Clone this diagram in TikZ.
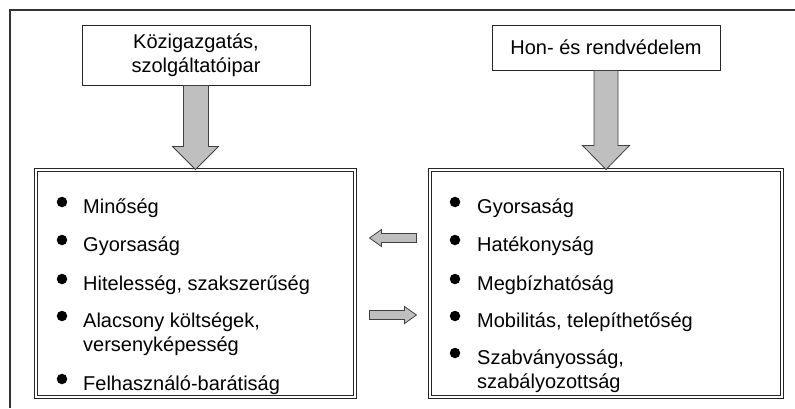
\documentclass[tikz,border=0pt]{standalone}
\usepackage{fontspec}
\setmainfont{Liberation Sans}
\usepackage{tikz}
\usetikzlibrary{positioning}
\usetikzlibrary{calc}

\tikzset{
  sourcebox/.style={draw=black!85, line width=0.8pt, minimum width=228pt, align=center, inner sep=2pt},
  listbox/.style={draw=black!85, double=white, double distance=1.6pt, line width=1pt, inner sep=0pt},
  blockarrow/.style={draw=black!75, fill=black!25, line width=0.8pt, line join=miter},
  itemtext/.style={anchor=base west, inner sep=0pt, align=left, text=black},
  dot/.style={circle, fill=black, inner sep=0pt, minimum size=10.5pt}
}

\begin{document}
\begin{tikzpicture}[x=1pt, y=-1pt, font=\fontsize{20}{24}\selectfont]
            \useasboundingbox (0,0) rectangle (795,408);
            \draw[black!80, line width=1.4pt] (795,10) -- (10,10) -- (10,408);
            \node[sourcebox, minimum height=60pt] (kozig) at (196,55) {Közigazgatás,\\ szolgáltatóipar};
            \node[sourcebox, minimum height=45pt] (honv) at (606,47.5) {Hon- és rendvédelem};
            \node[listbox, minimum width=319pt, minimum height=227pt] (lbox) at (195.5,283.5) {};
            \node[listbox, minimum width=352pt, minimum height=227pt] (rbox) at (606,283.5) {};
            \coordinate (mid) at ($(lbox.east)!0.5!(rbox.west)$);
            \foreach \y/\b/\txt [count=\i] in {213/202/Minőség, 251/240/Gyorsaság, 290/279/{Hitelesség, szakszerűség}, 351/316/{Alacsony költségek,\\ versenyképesség}, 390/379/Felhasználó-barátiság} {
                \node[itemtext] (l\i) at (83,\y) {\txt};
                \node[dot] (ld\i) at (62,\b) {};
            }
            \foreach \y/\b/\txt [count=\i] in {213/202/Gyorsaság, 251/240/Hatékonyság, 290/279/Megbízhatóság, 327/316/{Mobilitás, telepíthetőség}, 388/353/{Szabványosság,\\ szabályozottság}} {
                \node[itemtext] (r\i) at (477,\y) {\txt};
                \node[dot] (rd\i) at (455,\b) {};
            }
            \draw[blockarrow] ($(kozig.south)+(-12.5,0)$) |- ($(lbox.north)+(-23,-23)$) -- (lbox.north) -- ($(lbox.north)+(23,-23)$) -| ($(kozig.south)+(12.5,0)$) -- cycle;
            \draw[blockarrow] ($(honv.south)+(-12,0)$) |- ($(rbox.north)+(-23.5,-24)$) -- (rbox.north) -- ($(rbox.north)+(23.5,-24)$) -| ($(honv.south)+(12,0)$) -- cycle;
            \draw[blockarrow] ($(mid)+(-23,-45.5)$) -- ++(12,-8.5) -- ++(0,4) -- ++(35,0) -- ++(0,9) -- ++(-35,0) -- ++(0,4) -- cycle;
            \draw[blockarrow] ($(mid)+(24,31.5)$) -- ++(-12,-8.5) -- ++(0,4) -- ++(-35,0) -- ++(0,9) -- ++(35,0) -- ++(0,4) -- cycle;
        \end{tikzpicture}
\end{document}
